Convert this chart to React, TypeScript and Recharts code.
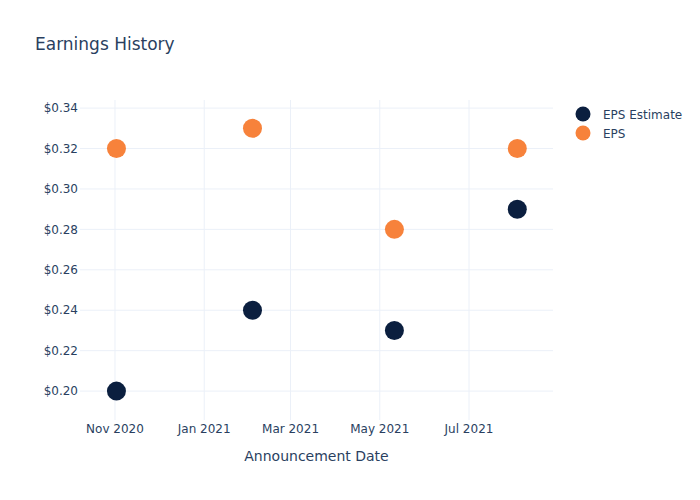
import { ScatterChart, Scatter, XAxis, YAxis, CartesianGrid } from 'recharts';

const dates = ['2020-11-02', '2021-02-03', '2021-05-11', '2021-08-03'];
const epsEstimate = [0.2, 0.24, 0.23, 0.29];
const eps = [0.32, 0.33, 0.28, 0.32];

const xTicks = ['2020-11-01', '2021-01-01', '2021-03-01', '2021-05-01', '2021-07-01'];
const yTicks = [0.2, 0.22, 0.24, 0.26, 0.28, 0.3, 0.32, 0.34];
const MONTHS = ['Jan', 'Feb', 'Mar', 'Apr', 'May', 'Jun', 'Jul', 'Aug', 'Sep', 'Oct', 'Nov', 'Dec'];

const FONT = '"DejaVu Sans", Verdana, sans-serif';
const TEXT = '#2a3f5f';
const GRID = '#EBF0F8';
const NAVY = '#0B1F3F';
const ORANGE = '#F7823B';

const ts = (d: string) => new Date(d + 'T00:00:00Z').getTime();

const estimateData = dates.map((d, i) => ({ x: ts(d), y: epsEstimate[i] }));
const epsData = dates.map((d, i) => ({ x: ts(d), y: eps[i] }));

const fmtDate = (v: number) => {
  const d = new Date(v);
  return `${MONTHS[d.getUTCMonth()]} ${d.getUTCFullYear()}`;
};

const dot = (color: string) => (props: any) => (
  <circle cx={props.cx} cy={props.cy} r={9.5} fill={color} />
);

export default function App() {
  return (
    <div style={{ position: 'absolute', left: 0, top: 0, width: 700, height: 500, background: '#fff', fontFamily: FONT }}>
      <ScatterChart width={700} height={500} margin={{ top: 100, right: 147, bottom: 50, left: 10 }}>
        <CartesianGrid stroke={GRID} strokeWidth={1} syncWithTicks />
        <XAxis
          type="number"
          dataKey="x"
          domain={[Date.UTC(2020, 9, 8, 2), Date.UTC(2021, 7, 27, 10)]}
          ticks={xTicks.map(ts)}
          tickFormatter={fmtDate}
          allowDataOverflow
          axisLine={false}
          tickLine={false}
          tickSize={0}
          tickMargin={4}
          height={30}
          tick={{ fill: TEXT, fontSize: 12, fontFamily: FONT }}
        />
        <YAxis
          type="number"
          dataKey="y"
          domain={[0.1857, 0.344]}
          ticks={yTicks}
          tickFormatter={(v: number) => `$${v.toFixed(2)}`}
          allowDataOverflow
          axisLine={false}
          tickLine={false}
          tickSize={0}
          tickMargin={2}
          width={70}
          tick={{ fill: TEXT, fontSize: 12, fontFamily: FONT }}
        />
        <Scatter name="EPS Estimate" data={estimateData} fill={NAVY} shape={dot(NAVY)} isAnimationActive={false} />
        <Scatter name="EPS" data={epsData} fill={ORANGE} shape={dot(ORANGE)} isAnimationActive={false} />
        <text x={35} y={50} fill={TEXT} fontSize={17} fontFamily={FONT}>
          Earnings History
        </text>
        <text x={316.5} y={461} fill={TEXT} fontSize={14} fontFamily={FONT} textAnchor="middle">
          Announcement Date
        </text>
        <g fontFamily={FONT} fontSize={12} fill={TEXT}>
          <circle cx={583} cy={114} r={7.5} fill={NAVY} />
          <text x={603} y={118.5}>EPS Estimate</text>
          <circle cx={583} cy={133} r={7.5} fill={ORANGE} />
          <text x={603} y={137.5}>EPS</text>
        </g>
      </ScatterChart>
    </div>
  );
}
